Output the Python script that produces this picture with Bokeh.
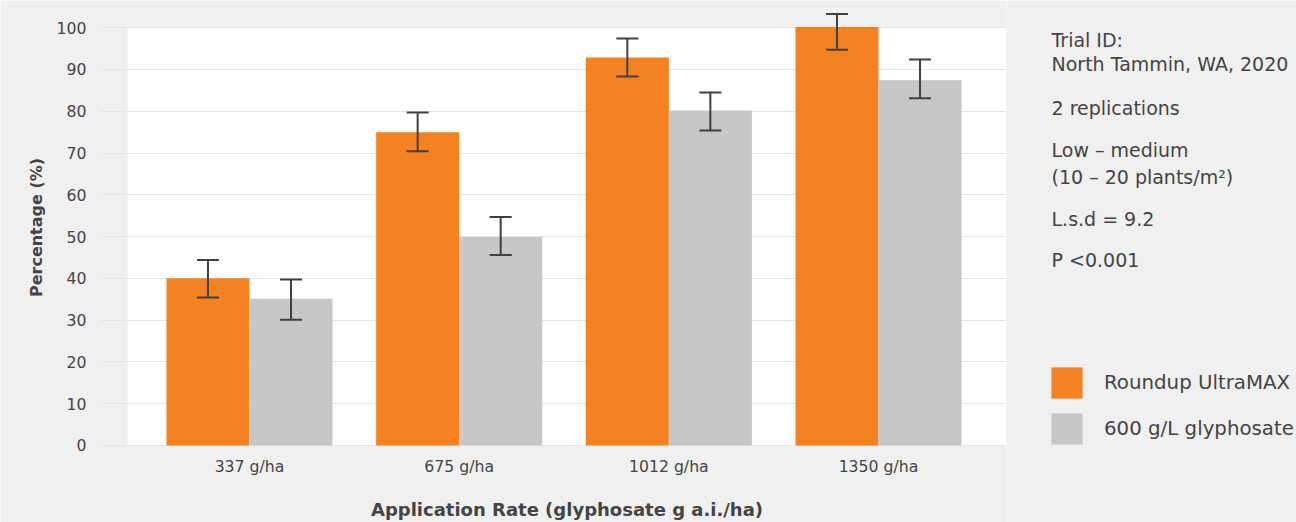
from bokeh.plotting import figure
from bokeh.layouts import row
from bokeh.models import (ColumnDataSource, Range1d, FixedTicker, Whisker, TeeHead,
                          Legend, LegendItem, Label, BoxAnnotation)
from bokeh.embed import file_html
from bokeh.resources import INLINE

# ---- data ----
rates = ["337 g/ha", "675 g/ha", "1012 g/ha", "1350 g/ha"]
series = ["Roundup UltraMAX", "600 g/L glyphosate"]
roundup = [40, 75, 92.9, 100.2]
roundup_lower = [35.4, 70.4, 88.3, 94.7]
roundup_upper = [44.4, 79.7, 97.4, 103.3]
generic = [35.1, 49.9, 80.2, 87.4]
generic_lower = [30.1, 45.6, 75.4, 83.1]
generic_upper = [39.7, 54.7, 84.5, 92.4]
y_ticks = [0, 10, 20, 30, 40, 50, 60, 70, 80, 90, 100]
notes = ["Trial ID:", "North Tammin, WA, 2020", "2 replications", "Low \u2013 medium",
         "(10 \u2013 20 plants/m\u00b2)", "L.s.d = 9.2", "P <0.001"]

# ---- style ----
ORANGE = "#f48221"
GREY = "#c6c7c9"
BG = "#f0f0f0"
TXT = "#444444"
GRID = "#e4e4e4"
FONT = "DejaVu Sans"
BAR_W = 0.396
OFF = BAR_W / 2

PX_PER_X = 209.67
def dx(px):
    return (px - 249) / PX_PER_X

idx = list(range(len(rates)))
src = ColumnDataSource(dict(
    xo=[i - OFF for i in idx], xg=[i + OFF for i in idx],
    ro=roundup, rlo=roundup_lower, rup=roundup_upper,
    go=generic, glo=generic_lower, gup=generic_upper,
))

# ---------------- main chart ----------------
p = figure(width=1006, height=522, output_backend="svg", toolbar_location=None,
           x_range=Range1d(dx(127), dx(1006)), y_range=Range1d(-0.25, 104.6),
           min_border_left=127, min_border_right=0, min_border_top=8, min_border_bottom=75)
p.background_fill_color = BG
p.border_fill_color = BG
p.outline_line_color = None

# white panel behind the bars (0..100 %)
panel = BoxAnnotation(bottom=0, top=100, fill_color="white", fill_alpha=1.0,
                      line_color=None, level="image")
p.add_layout(panel)

r1 = p.vbar(x="xo", top="ro", width=BAR_W, source=src, fill_color=ORANGE, line_color=None)
r2 = p.vbar(x="xg", top="go", width=BAR_W, source=src, fill_color=GREY, line_color=None)

for base, lo, up in (("xo", "rlo", "rup"), ("xg", "glo", "gup")):
    w = Whisker(source=src, base=base, lower=lo, upper=up, dimension="height",
                line_color="#404040", line_width=2, level="annotation",
                upper_head=TeeHead(size=22, line_color="#404040", line_width=2),
                lower_head=TeeHead(size=22, line_color="#404040", line_width=2))
    p.add_layout(w)

p.xaxis.ticker = FixedTicker(ticks=idx)
p.xaxis.major_label_overrides = {i: r for i, r in zip(idx, rates)}
p.yaxis.ticker = FixedTicker(ticks=y_ticks)
for ax in (p.xaxis, p.yaxis):
    ax.axis_line_color = None
    ax.minor_tick_line_color = None
    ax.major_tick_in = 0
    ax.major_label_text_font = FONT
    ax.major_label_text_font_size = "15.7px"
    ax.major_label_text_color = TXT
    ax.axis_label_text_font = FONT
    ax.axis_label_text_font_style = "bold"
    ax.axis_label_text_color = TXT
p.xaxis.major_tick_line_color = None
p.xaxis.major_tick_out = 0
p.xaxis.axis_label = "Application Rate (glyphosate g a.i./ha)"
p.xaxis.axis_label_text_font_size = "18px"
p.xaxis.major_label_standoff = 10
p.xaxis.axis_label_standoff = 20
# grid lines continue a little into the grey margin: drawn as outward ticks
p.yaxis.major_tick_out = 27
p.yaxis.major_tick_line_color = GRID
p.yaxis.major_tick_line_width = 1
p.yaxis.axis_label = "Percentage (%)"
p.yaxis.axis_label_text_font_size = "16px"
p.yaxis.major_label_standoff = 14
p.yaxis.axis_label_standoff = 8

p.xgrid.grid_line_color = None
p.ygrid.grid_line_color = GRID
p.ygrid.grid_line_width = 1

# ---------------- side panel: notes + legend ----------------
# frame is aligned with the main frame (rows 8..447 px); y maps 1:1 to pixels,
# x runs right-to-left so the key bars (x ~ 0..3) fall just beyond the right edge
def sx(px):
    return 1306 - px

s = figure(width=290, height=522, output_backend="svg", toolbar_location=None,
           x_range=Range1d(sx(1006), sx(1296)), y_range=Range1d(447, 8),
           min_border_left=0, min_border_right=0, min_border_top=8, min_border_bottom=75)
s.axis.visible = False
s.grid.visible = False
s.background_fill_color = BG
s.border_fill_color = BG
s.outline_line_color = None

baselines = [40, 64, 108, 150, 177, 219, 260]
for t, b in zip(notes, baselines):
    s.add_layout(Label(x=sx(1051), y=b, text=t, text_font=FONT, text_font_size="19px",
                       text_color=TXT, text_baseline="alphabetic", text_align="left"))

# the same bar series, falling outside this panel: used only as legend keys
k1 = s.vbar(x="xo", top="ro", width=BAR_W, source=src, fill_color=ORANGE, line_color=None)
k2 = s.vbar(x="xg", top="go", width=BAR_W, source=src, fill_color=GREY, line_color=None)
legend = Legend(items=[LegendItem(label=series[0], renderers=[k1]),
                       LegendItem(label=series[1], renderers=[k2])],
                location=(41, -2), orientation="vertical",
                glyph_width=39, glyph_height=39, label_height=39, label_standoff=18,
                spacing=7, padding=0, margin=0, border_line_color=None,
                background_fill_alpha=0, label_text_font=FONT, label_text_font_size="19.8px",
                label_text_color=TXT, label_text_baseline="middle")
s.add_layout(legend)

layout = row(p, s, spacing=0)
open("out.html", "w").write(file_html(layout, INLINE))
